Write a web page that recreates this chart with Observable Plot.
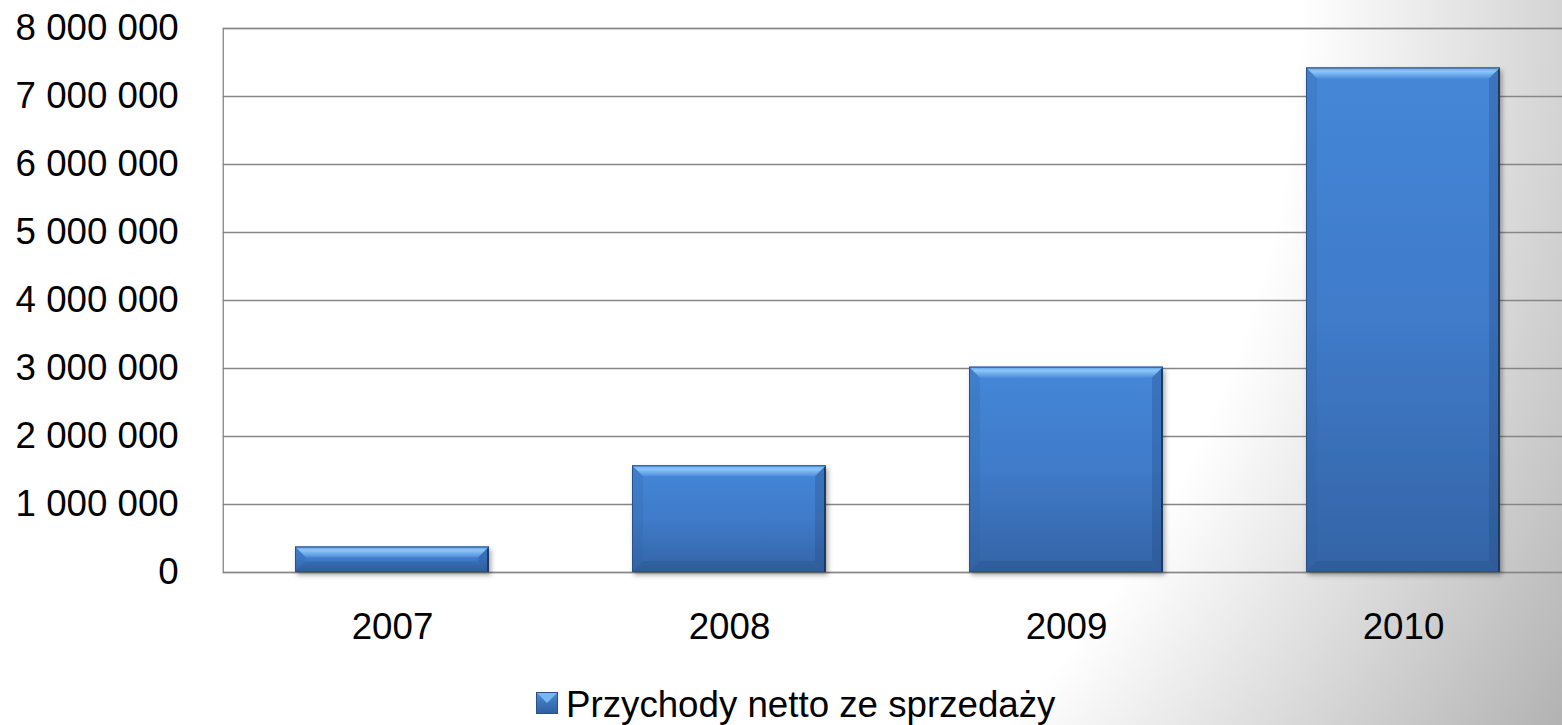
<!DOCTYPE html>
<html>
<head>
<meta charset="utf-8">
<script src="https://cdn.jsdelivr.net/npm/d3@7"></script>
<script src="https://cdn.jsdelivr.net/npm/@observablehq/plot@0.6"></script>
<style>
  html, body { margin: 0; padding: 0; overflow: hidden; width: 1562px; height: 725px; }
  body {
    position: relative;
    background: radial-gradient(ellipse 1300px 1142px at 0px 0px, #ffffff 0%, #ffffff 100%, #b2b2b2 136%);
    font-family: "Liberation Sans", Arial, sans-serif;
  }
  #chart { position: absolute; left: 0; top: 0; width: 1573px; }
  #chart svg { max-width: none !important; }
  #legend-swatch { position: absolute; left: 536px; top: 692px; width: 22px; height: 22px; }
  #legend-text { position: absolute; left: 566px; top: 687px; font-size: 36.7px; line-height: 36.7px; color: #000; white-space: nowrap; }
</style>
</head>
<body>
<div id="chart"></div>
<svg id="legend-swatch" viewBox="0 0 22 22">
  <defs>
    <linearGradient id="lg" x1="0" y1="0" x2="0" y2="1">
      <stop offset="0" stop-color="#4a8ad8"/>
      <stop offset="1" stop-color="#2f5f9e"/>
    </linearGradient>
  </defs>
  <rect x="0.5" y="0.5" width="21" height="21" fill="url(#lg)" stroke="#2a5185" stroke-width="1"/>
  <polygon points="1,1 21,1 11,11" fill="#7ab6f0"/>
</svg>
<div id="legend-text"></div>
<script>
const years = ["2007", "2008", "2009", "2010"];
const revenue = [375000, 1570000, 3020000, 7420000];
const yTicks = [0, 1000000, 2000000, 3000000, 4000000, 5000000, 6000000, 7000000, 8000000];
const seriesName = "Przychody netto ze sprzedaży";

const table = years.map((year, i) => ({year, value: revenue[i]}));
const fmt = d => d3.format(",")(d).replace(/,/g, " ");

document.getElementById("legend-text").textContent = seriesName;

const plot = Plot.plot({
  width: 1573,
  height: 665,
  marginLeft: 222.75,
  marginRight: 0,
  marginTop: 28,
  marginBottom: 93,
  style: {background: "transparent", fontFamily: "'Liberation Sans', Arial, sans-serif", color: "#000", overflow: "visible", maxWidth: "none"},
  x: {domain: years, paddingInner: 0.425, paddingOuter: 0.2125, label: null},
  y: {domain: [0, 8000000], label: null},
  marks: [
    Plot.ruleY(yTicks, {stroke: "#868686", strokeWidth: 1.3}),
    Plot.frame({stroke: "#868686", strokeWidth: 1.3}),
    Plot.barY(table, {x: "year", y: "value", fill: "url(#barGrad)"}),
    Plot.axisY({ticks: yTicks, tickSize: 0, tickPadding: 44.5, tickFormat: fmt, fontSize: 36.7, label: null}),
    Plot.axisX({tickSize: 0, tickPadding: 40, fontSize: 36.7, label: null})
  ]
});
plot.style.maxWidth = "none";

const ns = "http://www.w3.org/2000/svg";
const defs = document.createElementNS(ns, "defs");
defs.innerHTML = `
  <linearGradient id="barGrad" x1="0" y1="0" x2="0" y2="1">
    <stop offset="0" stop-color="#4587d8"/>
    <stop offset="0.5" stop-color="#3f7bc9"/>
    <stop offset="1" stop-color="#3464a6"/>
  </linearGradient>
  <linearGradient id="topBevel" x1="0" y1="0" x2="0" y2="1">
    <stop offset="0" stop-color="#5c9de6"/>
    <stop offset="0.35" stop-color="#8cc6fa"/>
    <stop offset="1" stop-color="#4f8fdc"/>
  </linearGradient>
  <filter id="shadow" x="-10%" y="-10%" width="130%" height="130%">
    <feDropShadow dx="2" dy="3" stdDeviation="2.5" flood-color="#000" flood-opacity="0.35"/>
  </filter>`;
plot.insertBefore(defs, plot.firstChild);

const barGroup = [...plot.querySelectorAll("g")].find(g => g.getAttribute("fill") === "url(#barGrad)");
if (barGroup) {
  barGroup.setAttribute("filter", "url(#shadow)");
  const bevel = document.createElementNS(ns, "g");
  barGroup.parentNode.insertBefore(bevel, barGroup.nextSibling);
  for (const r of barGroup.querySelectorAll("rect")) {
    const x = +r.getAttribute("x"), y = +r.getAttribute("y");
    const w = +r.getAttribute("width"), h = +r.getAttribute("height");
    const b = Math.min(11, h / 2.4);
    const poly = (pts, fill, op) => {
      const p = document.createElementNS(ns, "polygon");
      p.setAttribute("points", pts.map(q => q.join(",")).join(" "));
      p.setAttribute("fill", fill);
      if (op != null) p.setAttribute("fill-opacity", op);
      bevel.appendChild(p);
    };
    poly([[x, y], [x + w, y], [x + w - b, y + b], [x + b, y + b]], "url(#topBevel)");
    poly([[x, y], [x + b, y + b], [x + b, y + h - b], [x, y + h]], "#2f5e9e", 0.2);
    poly([[x + w, y], [x + w, y + h], [x + w - b, y + h - b], [x + w - b, y + b]], "#1f3f6e", 0.25);
    poly([[x, y + h], [x + b, y + h - b], [x + w - b, y + h - b], [x + w, y + h]], "#1f3f6e", 0.2);
    const o = document.createElementNS(ns, "rect");
    o.setAttribute("x", x + 0.5); o.setAttribute("y", y + 0.5);
    o.setAttribute("width", w - 1); o.setAttribute("height", h - 1);
    o.setAttribute("fill", "none"); o.setAttribute("stroke", "#2a5185"); o.setAttribute("stroke-width", 1);
    bevel.appendChild(o);
    const re = document.createElementNS(ns, "line");
    re.setAttribute("x1", x + w - 1); re.setAttribute("x2", x + w - 1);
    re.setAttribute("y1", y + 2); re.setAttribute("y2", y + h);
    re.setAttribute("stroke", "#1d3a63"); re.setAttribute("stroke-width", 2);
    bevel.appendChild(re);
  }
}

document.getElementById("chart").appendChild(plot);
</script>
</body>
</html>
